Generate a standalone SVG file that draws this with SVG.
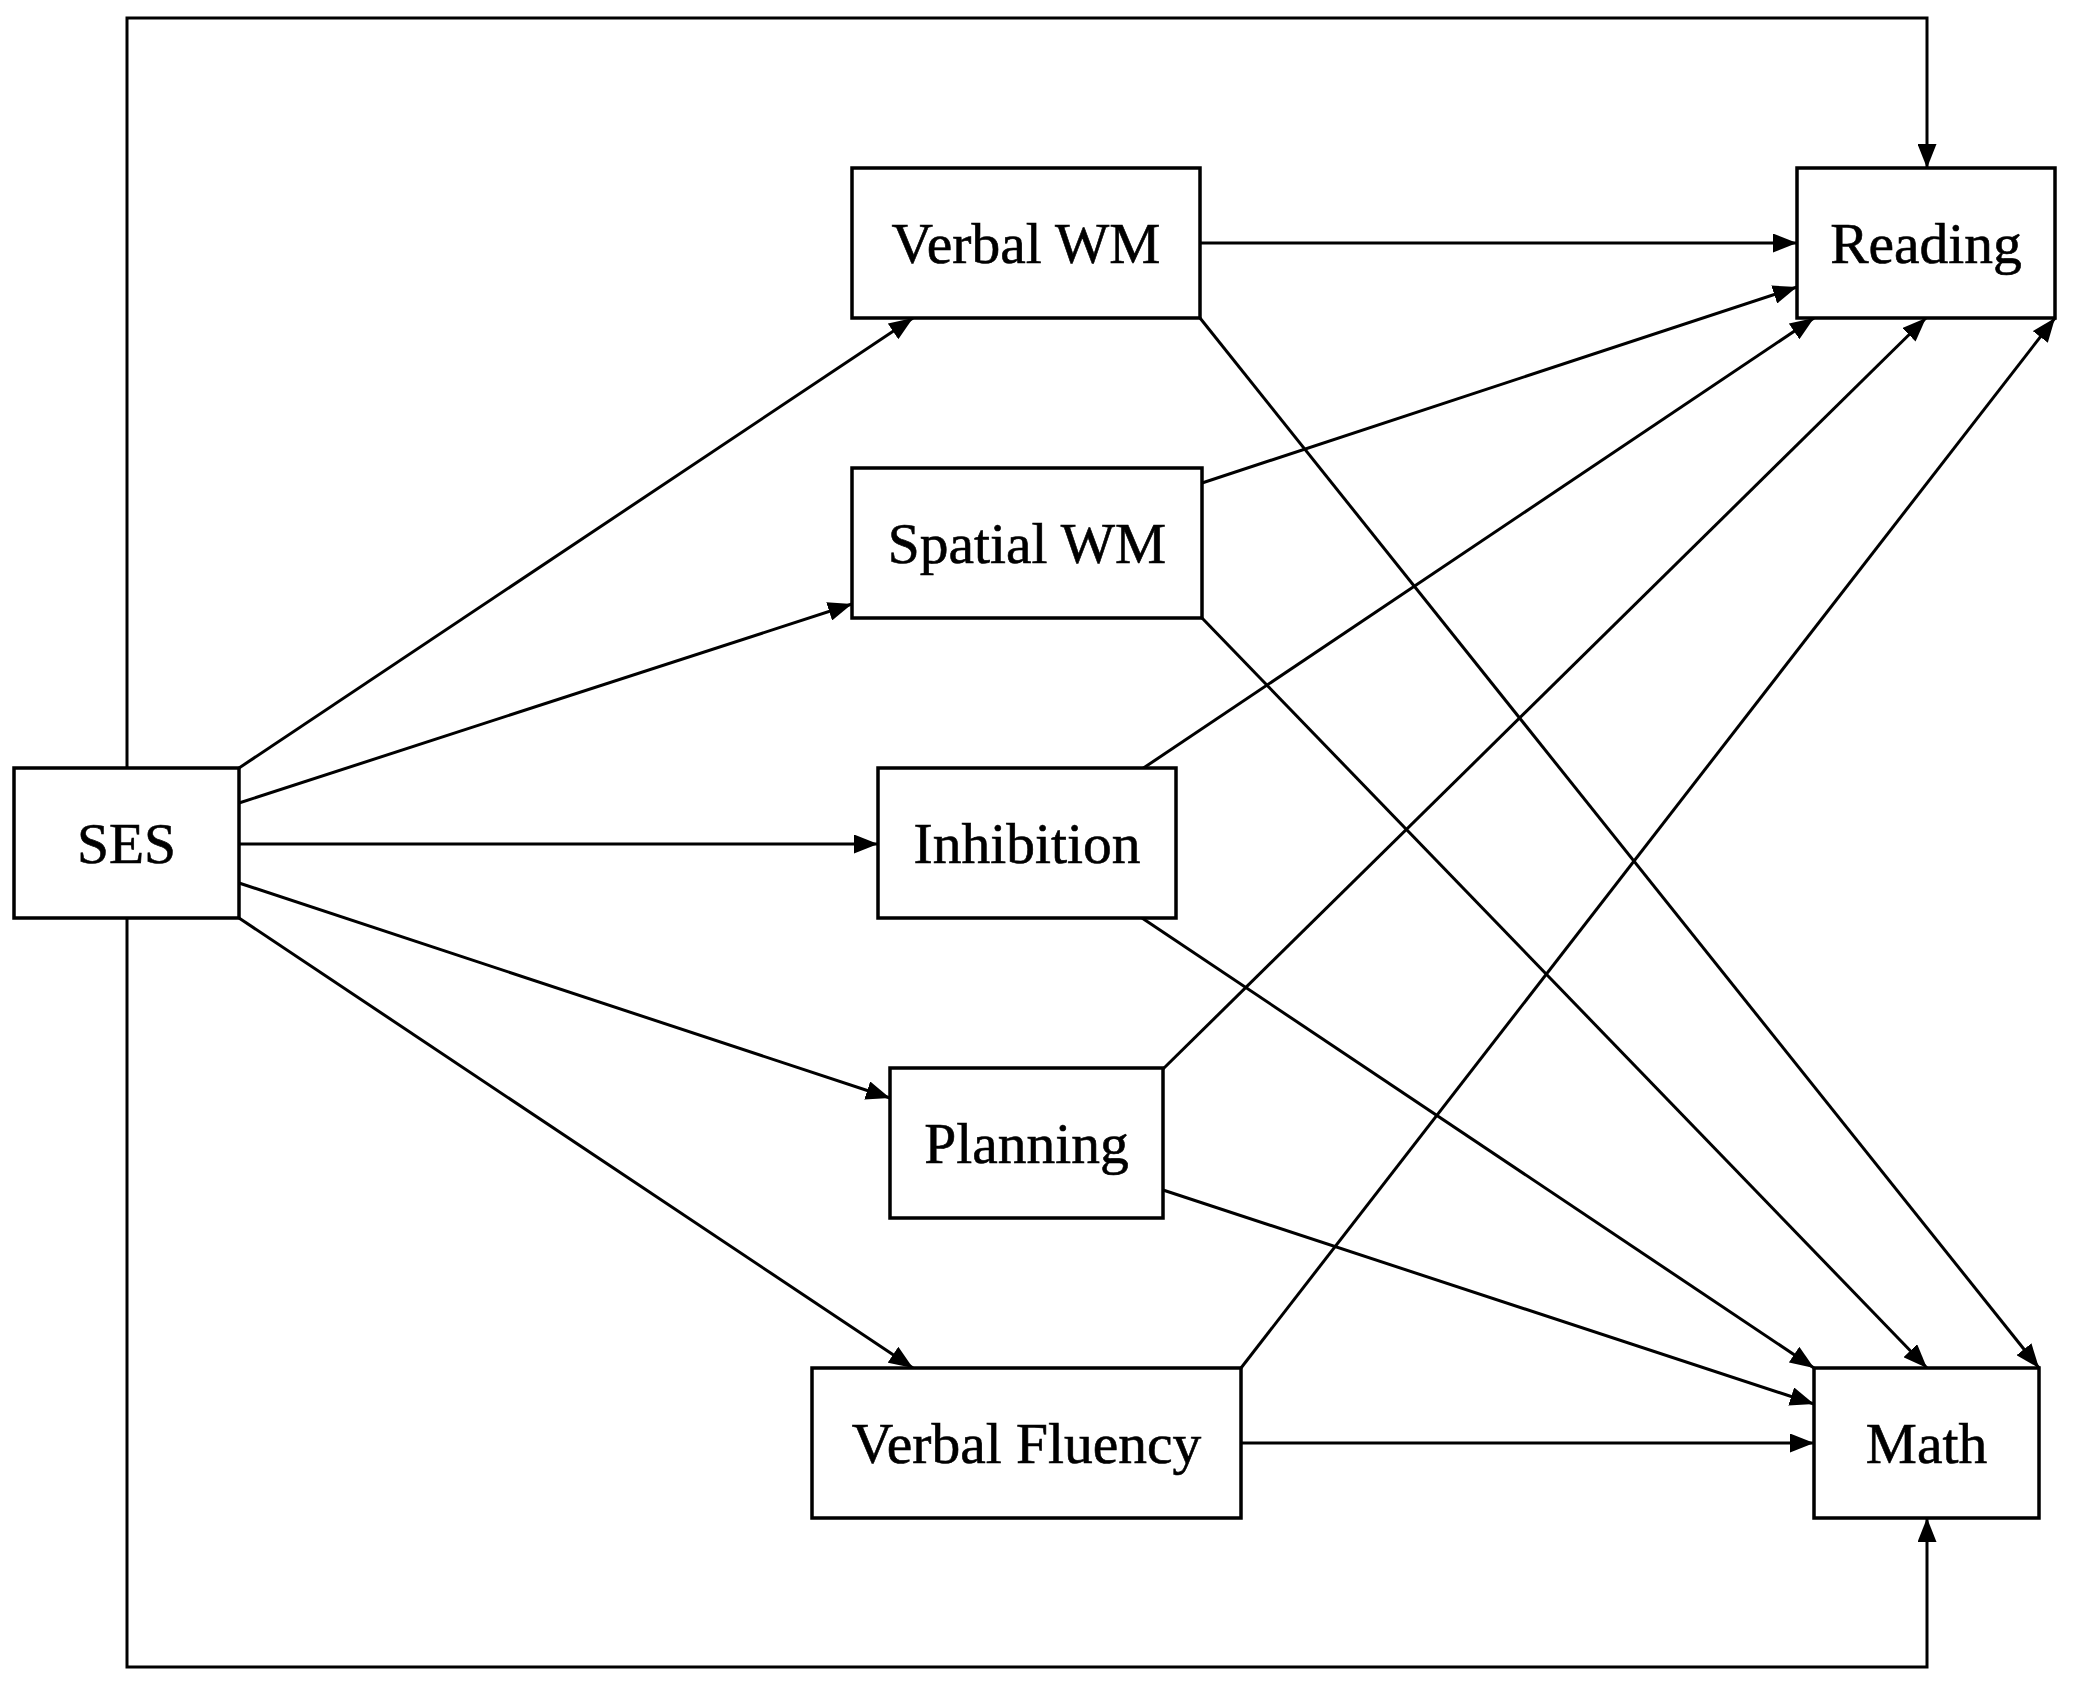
<svg xmlns="http://www.w3.org/2000/svg" width="2077" height="1682" viewBox="0 0 2077 1682">
<style>
.box{fill:#fff;stroke:#000;stroke-width:3.5}
.lbl{font-family:"Liberation Serif","Times New Roman",serif;font-size:57.5px;fill:#000;stroke:#000;stroke-width:0.6;text-anchor:middle}
.edge{fill:none;stroke:#000;stroke-width:3}
.arr{marker-end:url(#ah)}
</style>
<defs>
<marker id="ah" viewBox="0 0 24 19" refX="24" refY="9.5" markerWidth="24" markerHeight="19" markerUnits="userSpaceOnUse" orient="auto">
<path d="M0,0 L24,9.5 L0,19 Z" fill="#000"/>
</marker>
</defs>
<rect width="2077" height="1682" fill="#fff"/>
<g id="connectors">
<path class="edge arr" d="M127,768 L127,18 L1927,18 L1927,168"/>
<path class="edge arr" d="M127,918 L127,1667 L1927,1667 L1927,1518"/>
<line class="edge arr" x1="239" y1="768" x2="913" y2="318"/>
<line class="edge arr" x1="239" y1="803" x2="852" y2="604"/>
<line class="edge arr" x1="239" y1="844" x2="878" y2="844"/>
<line class="edge arr" x1="239" y1="883" x2="890" y2="1098"/>
<line class="edge arr" x1="239" y1="918" x2="913" y2="1368"/>
<line class="edge arr" x1="1200" y1="243" x2="1797" y2="243"/>
<line class="edge arr" x1="1200" y1="318" x2="2039" y2="1368"/>
<line class="edge arr" x1="1202" y1="483" x2="1797" y2="287"/>
<line class="edge arr" x1="1202" y1="618" x2="1927" y2="1368"/>
<line class="edge arr" x1="1142" y1="769" x2="1814" y2="318"/>
<line class="edge arr" x1="1142" y1="918" x2="1814" y2="1368"/>
<line class="edge arr" x1="1163" y1="1069" x2="1926" y2="318"/>
<line class="edge arr" x1="1163" y1="1190" x2="1814" y2="1404"/>
<line class="edge arr" x1="1241" y1="1368" x2="2055" y2="318"/>
<line class="edge arr" x1="1241" y1="1443" x2="1814" y2="1443"/>
</g>
<g id="node-ses"><rect class="box" x="14" y="768" width="225" height="150"/><text class="lbl" x="126.5" y="862.5">SES</text></g>
<g id="node-verbal-wm"><rect class="box" x="852" y="168" width="348" height="150"/><text class="lbl" x="1026" y="262.5">Verbal WM</text></g>
<g id="node-spatial-wm"><rect class="box" x="852" y="468" width="350" height="150"/><text class="lbl" x="1027" y="562.5">Spatial WM</text></g>
<g id="node-inhibition"><rect class="box" x="878" y="768" width="298" height="150"/><text class="lbl" x="1027" y="862.5">Inhibition</text></g>
<g id="node-planning"><rect class="box" x="890" y="1068" width="273" height="150"/><text class="lbl" x="1026.5" y="1162.5">Planning</text></g>
<g id="node-verbal-fluency"><rect class="box" x="812" y="1368" width="429" height="150"/><text class="lbl" x="1026.5" y="1462.5">Verbal Fluency</text></g>
<g id="node-reading"><rect class="box" x="1797" y="168" width="258" height="150"/><text class="lbl" x="1926" y="262.5">Reading</text></g>
<g id="node-math"><rect class="box" x="1814" y="1368" width="225" height="150"/><text class="lbl" x="1926.5" y="1462.5">Math</text></g>
</svg>
